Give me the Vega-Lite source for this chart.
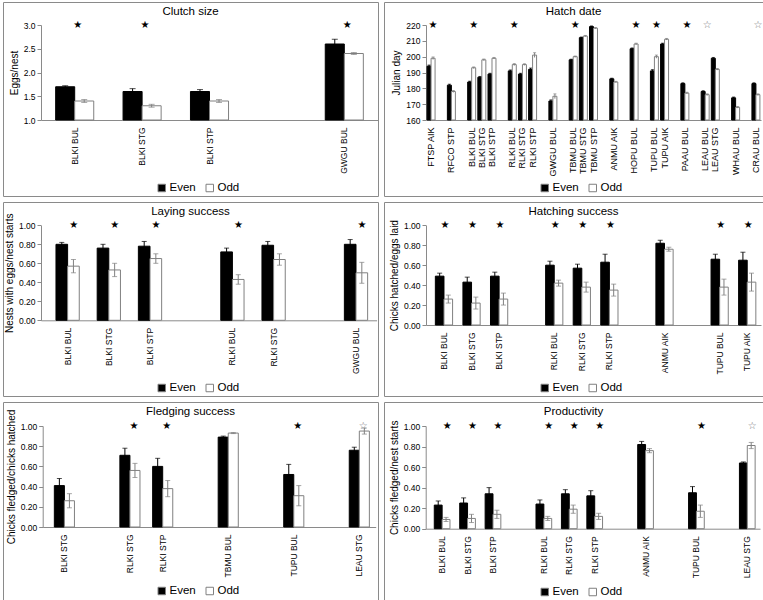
{
"$schema":"https://vega.github.io/schema/vega-lite/v6.json",
"padding":{"left":2,"top":1,"right":0,"bottom":0},
"columns":2,
"spacing":6,
"align":"each",
"bounds":"flush",
"resolve":{"scale":{"fill":"independent","xOffset":"independent","x":"independent","y":"independent"},"legend":{"fill":"independent"},"axis":{"x":"independent","y":"independent"}},
"config":{
 "font":"Liberation Sans",
 "view":{"stroke":"#8a8a8a","strokeWidth":1},
 "axis":{"grid":false,"domainColor":"#8a8a8a","tickColor":"#8a8a8a","labelColor":"#000000","titleColor":"#000000","labelFontSize":8.5,"titleFontSize":10,"titleFontWeight":"normal","labelFont":"Liberation Sans","titleFont":"Liberation Sans"},
 "axisX":{"tickSize":0,"labelAngle":-90,"labelPadding":7},
 "axisY":{"tickSize":4,"labelPadding":2,"titlePadding":4},
 "title":{"fontSize":11.5,"fontWeight":"normal","offset":-15,"frame":"group","color":"#000000","font":"Liberation Sans"},
 "legend":{"symbolType":"square","symbolSize":56,"labelFontSize":11.5,"labelOffset":2,"columnPadding":8,"symbolStrokeColor":"#808080","symbolStrokeWidth":1,"padding":0,"labelColor":"#000000"}
},
"datasets":{
 "clutch":[
  {"cat":"BLKI BUL","yr":"Even","v":1.7,"lo":1.68,"hi":1.72},{"cat":"BLKI BUL","yr":"Odd","v":1.4,"lo":1.37,"hi":1.43},
  {"cat":"BLKI STG","yr":"Even","v":1.6,"lo":1.54,"hi":1.66},{"cat":"BLKI STG","yr":"Odd","v":1.3,"lo":1.27,"hi":1.33},
  {"cat":"BLKI STP","yr":"Even","v":1.6,"lo":1.56,"hi":1.64},{"cat":"BLKI STP","yr":"Odd","v":1.4,"lo":1.37,"hi":1.43},
  {"cat":"GWGU BUL","yr":"Even","v":2.6,"lo":2.5,"hi":2.7},{"cat":"GWGU BUL","yr":"Odd","v":2.4,"lo":2.38,"hi":2.42}
 ],
 "clutchStars":[{"cat":"BLKI BUL","s":"★"},{"cat":"BLKI STG","s":"★"},{"cat":"GWGU BUL","s":"★"}],
 "hatch":[
  {"cat":"FTSP AIK","yr":"Even","v":194,"lo":193.3,"hi":194.7},{"cat":"FTSP AIK","yr":"Odd","v":199,"lo":198.2,"hi":199.8},
  {"cat":"RFCO STP","yr":"Even","v":182,"lo":181.4,"hi":182.6},{"cat":"RFCO STP","yr":"Odd","v":178,"lo":177.4,"hi":178.6},
  {"cat":"BLKI BUL","yr":"Even","v":184,"lo":183.5,"hi":184.5},{"cat":"BLKI BUL","yr":"Odd","v":193,"lo":192.5,"hi":193.5},
  {"cat":"BLKI STG","yr":"Even","v":187,"lo":186.5,"hi":187.5},{"cat":"BLKI STG","yr":"Odd","v":198,"lo":197.5,"hi":198.5},
  {"cat":"BLKI STP","yr":"Even","v":189,"lo":188.5,"hi":189.5},{"cat":"BLKI STP","yr":"Odd","v":199,"lo":198.5,"hi":199.5},
  {"cat":"RLKI BUL","yr":"Even","v":191,"lo":190.4,"hi":191.6},{"cat":"RLKI BUL","yr":"Odd","v":195,"lo":194.4,"hi":195.6},
  {"cat":"RLKI STG","yr":"Even","v":189,"lo":188.5,"hi":189.5},{"cat":"RLKI STG","yr":"Odd","v":195,"lo":194.5,"hi":195.5},
  {"cat":"RLKI STP","yr":"Even","v":192,"lo":191.2,"hi":192.8},{"cat":"RLKI STP","yr":"Odd","v":201,"lo":199.5,"hi":202.5},
  {"cat":"GWGU BUL","yr":"Even","v":172,"lo":171.3,"hi":172.7},{"cat":"GWGU BUL","yr":"Odd","v":175,"lo":173.5,"hi":176.5},
  {"cat":"TBMU BUL","yr":"Even","v":198,"lo":197.6,"hi":198.4},{"cat":"TBMU BUL","yr":"Odd","v":200,"lo":199.6,"hi":200.4},
  {"cat":"TBMU STG","yr":"Even","v":212,"lo":211.6,"hi":212.4},{"cat":"TBMU STG","yr":"Odd","v":213,"lo":212.6,"hi":213.4},
  {"cat":"TBMU STP","yr":"Even","v":219,"lo":218.6,"hi":219.4},{"cat":"TBMU STP","yr":"Odd","v":218,"lo":217.6,"hi":218.4},
  {"cat":"ANMU AIK","yr":"Even","v":186,"lo":185.6,"hi":186.4},{"cat":"ANMU AIK","yr":"Odd","v":184,"lo":183.6,"hi":184.4},
  {"cat":"HOPU BUL","yr":"Even","v":205,"lo":204.5,"hi":205.5},{"cat":"HOPU BUL","yr":"Odd","v":208,"lo":207.5,"hi":208.5},
  {"cat":"TUPU BUL","yr":"Even","v":191,"lo":190.2,"hi":191.8},{"cat":"TUPU BUL","yr":"Odd","v":200,"lo":199,"hi":201},
  {"cat":"TUPU AIK","yr":"Even","v":208,"lo":207.5,"hi":208.5},{"cat":"TUPU AIK","yr":"Odd","v":211,"lo":210.5,"hi":211.5},
  {"cat":"PAAU BUL","yr":"Even","v":183,"lo":182.5,"hi":183.5},{"cat":"PAAU BUL","yr":"Odd","v":177,"lo":176.5,"hi":177.5},
  {"cat":"LEAU BUL","yr":"Even","v":178,"lo":177.5,"hi":178.5},{"cat":"LEAU BUL","yr":"Odd","v":176,"lo":175.5,"hi":176.5},
  {"cat":"LEAU STG","yr":"Even","v":199,"lo":198.5,"hi":199.5},{"cat":"LEAU STG","yr":"Odd","v":192,"lo":191.5,"hi":192.5},
  {"cat":"WHAU BUL","yr":"Even","v":174,"lo":173.5,"hi":174.5},{"cat":"WHAU BUL","yr":"Odd","v":168,"lo":167.5,"hi":168.5},
  {"cat":"CRAU BUL","yr":"Even","v":183,"lo":182.5,"hi":183.5},{"cat":"CRAU BUL","yr":"Odd","v":176,"lo":175.5,"hi":176.5}
 ],
 "hatchStars":[{"cat":"FTSP AIK","s":"★"},{"cat":"BLKI BUL","s":"★"},{"cat":"RLKI BUL","s":"★"},{"cat":"TBMU BUL","s":"★"},{"cat":"HOPU BUL","s":"★"},{"cat":"TUPU BUL","s":"★"},{"cat":"PAAU BUL","s":"★"},{"cat":"LEAU BUL","s":"☆"},{"cat":"CRAU BUL","s":"☆"}],
 "laying":[
  {"cat":"BLKI BUL","yr":"Even","v":0.80,"lo":0.78,"hi":0.82},{"cat":"BLKI BUL","yr":"Odd","v":0.57,"lo":0.50,"hi":0.64},
  {"cat":"BLKI STG","yr":"Even","v":0.76,"lo":0.72,"hi":0.80},{"cat":"BLKI STG","yr":"Odd","v":0.53,"lo":0.46,"hi":0.60},
  {"cat":"BLKI STP","yr":"Even","v":0.78,"lo":0.73,"hi":0.83},{"cat":"BLKI STP","yr":"Odd","v":0.65,"lo":0.60,"hi":0.70},
  {"cat":"RLKI BUL","yr":"Even","v":0.72,"lo":0.68,"hi":0.76},{"cat":"RLKI BUL","yr":"Odd","v":0.43,"lo":0.38,"hi":0.48},
  {"cat":"RLKI STG","yr":"Even","v":0.79,"lo":0.75,"hi":0.83},{"cat":"RLKI STG","yr":"Odd","v":0.64,"lo":0.58,"hi":0.70},
  {"cat":"GWGU BUL","yr":"Even","v":0.80,"lo":0.75,"hi":0.85},{"cat":"GWGU BUL","yr":"Odd","v":0.50,"lo":0.39,"hi":0.61}
 ],
 "layingStars":[{"cat":"BLKI BUL","s":"★"},{"cat":"BLKI STG","s":"★"},{"cat":"BLKI STP","s":"★"},{"cat":"RLKI BUL","s":"★"},{"cat":"GWGU BUL","s":"★"}],
 "hatching":[
  {"cat":"BLKI BUL","yr":"Even","v":0.49,"lo":0.46,"hi":0.52},{"cat":"BLKI BUL","yr":"Odd","v":0.26,"lo":0.22,"hi":0.30},
  {"cat":"BLKI STG","yr":"Even","v":0.43,"lo":0.38,"hi":0.48},{"cat":"BLKI STG","yr":"Odd","v":0.22,"lo":0.16,"hi":0.28},
  {"cat":"BLKI STP","yr":"Even","v":0.49,"lo":0.45,"hi":0.53},{"cat":"BLKI STP","yr":"Odd","v":0.26,"lo":0.20,"hi":0.32},
  {"cat":"RLKI BUL","yr":"Even","v":0.60,"lo":0.56,"hi":0.64},{"cat":"RLKI BUL","yr":"Odd","v":0.42,"lo":0.39,"hi":0.45},
  {"cat":"RLKI STG","yr":"Even","v":0.57,"lo":0.53,"hi":0.61},{"cat":"RLKI STG","yr":"Odd","v":0.38,"lo":0.33,"hi":0.43},
  {"cat":"RLKI STP","yr":"Even","v":0.63,"lo":0.55,"hi":0.71},{"cat":"RLKI STP","yr":"Odd","v":0.35,"lo":0.29,"hi":0.41},
  {"cat":"ANMU AIK","yr":"Even","v":0.82,"lo":0.79,"hi":0.85},{"cat":"ANMU AIK","yr":"Odd","v":0.76,"lo":0.74,"hi":0.78},
  {"cat":"TUPU BUL","yr":"Even","v":0.66,"lo":0.61,"hi":0.71},{"cat":"TUPU BUL","yr":"Odd","v":0.38,"lo":0.30,"hi":0.46},
  {"cat":"TUPU AIK","yr":"Even","v":0.65,"lo":0.57,"hi":0.73},{"cat":"TUPU AIK","yr":"Odd","v":0.43,"lo":0.34,"hi":0.52}
 ],
 "hatchingStars":[{"cat":"BLKI BUL","s":"★"},{"cat":"BLKI STG","s":"★"},{"cat":"BLKI STP","s":"★"},{"cat":"RLKI BUL","s":"★"},{"cat":"RLKI STG","s":"★"},{"cat":"RLKI STP","s":"★"},{"cat":"TUPU BUL","s":"★"},{"cat":"TUPU AIK","s":"★"}],
 "fledging":[
  {"cat":"BLKI STG","yr":"Even","v":0.41,"lo":0.34,"hi":0.48},{"cat":"BLKI STG","yr":"Odd","v":0.26,"lo":0.19,"hi":0.33},
  {"cat":"RLKI STG","yr":"Even","v":0.71,"lo":0.64,"hi":0.78},{"cat":"RLKI STG","yr":"Odd","v":0.56,"lo":0.49,"hi":0.63},
  {"cat":"RLKI STP","yr":"Even","v":0.60,"lo":0.52,"hi":0.68},{"cat":"RLKI STP","yr":"Odd","v":0.38,"lo":0.30,"hi":0.46},
  {"cat":"TBMU BUL","yr":"Even","v":0.89,"lo":0.88,"hi":0.90},{"cat":"TBMU BUL","yr":"Odd","v":0.93,"lo":0.925,"hi":0.935},
  {"cat":"TUPU BUL","yr":"Even","v":0.52,"lo":0.42,"hi":0.62},{"cat":"TUPU BUL","yr":"Odd","v":0.31,"lo":0.21,"hi":0.41},
  {"cat":"LEAU STG","yr":"Even","v":0.76,"lo":0.73,"hi":0.79},{"cat":"LEAU STG","yr":"Odd","v":0.95,"lo":0.92,"hi":0.98}
 ],
 "fledgingStars":[{"cat":"RLKI STG","s":"★"},{"cat":"RLKI STP","s":"★"},{"cat":"TUPU BUL","s":"★"},{"cat":"LEAU STG","s":"☆"}],
 "prod":[
  {"cat":"BLKI BUL","yr":"Even","v":0.23,"lo":0.19,"hi":0.27},{"cat":"BLKI BUL","yr":"Odd","v":0.09,"lo":0.07,"hi":0.11},
  {"cat":"BLKI STG","yr":"Even","v":0.25,"lo":0.20,"hi":0.30},{"cat":"BLKI STG","yr":"Odd","v":0.10,"lo":0.06,"hi":0.14},
  {"cat":"BLKI STP","yr":"Even","v":0.34,"lo":0.28,"hi":0.40},{"cat":"BLKI STP","yr":"Odd","v":0.14,"lo":0.10,"hi":0.18},
  {"cat":"RLKI BUL","yr":"Even","v":0.24,"lo":0.20,"hi":0.28},{"cat":"RLKI BUL","yr":"Odd","v":0.10,"lo":0.08,"hi":0.12},
  {"cat":"RLKI STG","yr":"Even","v":0.34,"lo":0.30,"hi":0.38},{"cat":"RLKI STG","yr":"Odd","v":0.19,"lo":0.15,"hi":0.23},
  {"cat":"RLKI STP","yr":"Even","v":0.32,"lo":0.27,"hi":0.37},{"cat":"RLKI STP","yr":"Odd","v":0.12,"lo":0.09,"hi":0.15},
  {"cat":"ANMU AIK","yr":"Even","v":0.82,"lo":0.79,"hi":0.85},{"cat":"ANMU AIK","yr":"Odd","v":0.76,"lo":0.74,"hi":0.78},
  {"cat":"TUPU BUL","yr":"Even","v":0.35,"lo":0.29,"hi":0.41},{"cat":"TUPU BUL","yr":"Odd","v":0.17,"lo":0.11,"hi":0.23},
  {"cat":"LEAU STG","yr":"Even","v":0.64,"lo":0.63,"hi":0.65},{"cat":"LEAU STG","yr":"Odd","v":0.81,"lo":0.78,"hi":0.84}
 ],
 "prodStars":[{"cat":"BLKI BUL","s":"★"},{"cat":"BLKI STG","s":"★"},{"cat":"BLKI STP","s":"★"},{"cat":"RLKI BUL","s":"★"},{"cat":"RLKI STG","s":"★"},{"cat":"RLKI STP","s":"★"},{"cat":"TUPU BUL","s":"★"},{"cat":"LEAU STG","s":"☆"}]
},
"concat":[
  {"width":375,"height":194,"title":"Clutch size","data":{"name":"clutch"},
   "encoding":{"x":{"field":"cat","type":"nominal","title":null,"scale":{"domain":["BLKI BUL","BLKI STG","BLKI STP","_1","GWGU BUL"],"range":[38,375],"paddingInner":0,"paddingOuter":0},"axis":{"offset":-76,"labelExpr":"substring(datum.value,0,1)=='_' ? '' : datum.value"}}},
   "layer":[
    {"mark":{"type":"bar","strokeWidth":1},"encoding":{
      "xOffset":{"field":"yr","type":"nominal","scale":{"domain":["Even","Odd"],"paddingInner":0,"paddingOuter":0.77}},
      "y":{"field":"v","type":"quantitative","title":"Eggs/nest","scale":{"domain":[1,3],"range":[118,23],"zero":false,"nice":false},"axis":{"offset":-38,"values":[1,1.5,2,2.5,3],"format":".1f"}},
      "y2":{"datum":1},
      "fill":{"field":"yr","type":"nominal","scale":{"domain":["Even","Odd"],"range":["#000000","#ffffff"]},"legend":{"title":null,"orient":"none","legendX":153,"legendY":180,"direction":"horizontal"}},
      "stroke":{"condition":{"test":"datum.yr=='Odd'","value":"#808080"},"value":"#000000"}}},
    {"mark":{"type":"rule","strokeWidth":1},"encoding":{
      "xOffset":{"field":"yr","type":"nominal","scale":{"domain":["Even","Odd"],"paddingInner":0,"paddingOuter":0.77}},
      "y":{"field":"lo","type":"quantitative","title":"Eggs/nest","scale":{"domain":[1,3],"range":[118,23],"zero":false,"nice":false},"axis":{"offset":-38,"values":[1,1.5,2,2.5,3],"format":".1f"}},
      "y2":{"field":"hi"},
      "stroke":{"condition":{"test":"datum.yr=='Odd'","value":"#808080"},"value":"#000000"}}},
    {"mark":{"type":"tick","thickness":1,"size":6},"encoding":{
      "xOffset":{"field":"yr","type":"nominal","scale":{"domain":["Even","Odd"],"paddingInner":0,"paddingOuter":0.77}},
      "y":{"field":"hi","type":"quantitative","title":"Eggs/nest","scale":{"domain":[1,3],"range":[118,23],"zero":false,"nice":false},"axis":{"offset":-38,"values":[1,1.5,2,2.5,3],"format":".1f"}},
      "color":{"condition":{"test":"datum.yr=='Odd'","value":"#808080"},"value":"#000000"}}},
    {"mark":{"type":"tick","thickness":1,"size":6},"encoding":{
      "xOffset":{"field":"yr","type":"nominal","scale":{"domain":["Even","Odd"],"paddingInner":0,"paddingOuter":0.77}},
      "y":{"field":"lo","type":"quantitative","title":"Eggs/nest","scale":{"domain":[1,3],"range":[118,23],"zero":false,"nice":false},"axis":{"offset":-38,"values":[1,1.5,2,2.5,3],"format":".1f"}},
      "color":{"condition":{"test":"datum.yr=='Odd'","value":"#808080"},"value":"#000000"}}},
    {"data":{"name":"clutchStars"},"mark":{"type":"text","font":"DejaVu Sans","fontSize":10,"dx":3,"baseline":"middle"},"encoding":{
      "y":{"datum":3,"type":"quantitative","title":"Eggs/nest","scale":{"domain":[1,3],"range":[118,23],"zero":false,"nice":false},"axis":{"offset":-38,"values":[1,1.5,2,2.5,3],"format":".1f"}},
      "text":{"field":"s"},
      "color":{"condition":{"test":"datum.s=='☆'","value":"#777777"},"value":"#000000"}}}
   ]},
  {"width":379,"height":194,"title":"Hatch date","data":{"name":"hatch"},
   "encoding":{"x":{"field":"cat","type":"nominal","title":null,"scale":{"domain":["FTSP AIK","_1","RFCO STP","_2","BLKI BUL","BLKI STG","BLKI STP","_3","RLKI BUL","RLKI STG","RLKI STP","_4","GWGU BUL","_5","TBMU BUL","TBMU STG","TBMU STP","_6","ANMU AIK","_7","HOPU BUL","_8","TUPU BUL","TUPU AIK","_9","PAAU BUL","_10","LEAU BUL","LEAU STG","_11","WHAU BUL","_12","CRAU BUL"],"range":[42,377],"paddingInner":0,"paddingOuter":0},"axis":{"offset":-76,"labelFontSize":9,"labelExpr":"substring(datum.value,0,1)=='_' ? '' : datum.value"}}},
   "layer":[
    {"mark":{"type":"bar","strokeWidth":1},"encoding":{
      "xOffset":{"field":"yr","type":"nominal","scale":{"domain":["Even","Odd"],"paddingInner":0,"paddingOuter":0.27}},
      "y":{"field":"v","type":"quantitative","title":"Julian day","scale":{"domain":[160,220],"range":[118,23],"zero":false,"nice":false},"axis":{"offset":-42,"values":[160,170,180,190,200,210,220],"format":"d"}},
      "y2":{"datum":160},
      "fill":{"field":"yr","type":"nominal","scale":{"domain":["Even","Odd"],"range":["#000000","#ffffff"]},"legend":{"title":null,"orient":"none","legendX":155,"legendY":180,"direction":"horizontal"}},
      "stroke":{"condition":{"test":"datum.yr=='Odd'","value":"#808080"},"value":"#000000"}}},
    {"mark":{"type":"rule","strokeWidth":1},"encoding":{
      "xOffset":{"field":"yr","type":"nominal","scale":{"domain":["Even","Odd"],"paddingInner":0,"paddingOuter":0.27}},
      "y":{"field":"lo","type":"quantitative","title":"Julian day","scale":{"domain":[160,220],"range":[118,23],"zero":false,"nice":false},"axis":{"offset":-42,"values":[160,170,180,190,200,210,220],"format":"d"}},
      "y2":{"field":"hi"},
      "stroke":{"condition":{"test":"datum.yr=='Odd'","value":"#808080"},"value":"#000000"}}},
    {"mark":{"type":"tick","thickness":1,"size":3},"encoding":{
      "xOffset":{"field":"yr","type":"nominal","scale":{"domain":["Even","Odd"],"paddingInner":0,"paddingOuter":0.27}},
      "y":{"field":"hi","type":"quantitative","title":"Julian day","scale":{"domain":[160,220],"range":[118,23],"zero":false,"nice":false},"axis":{"offset":-42,"values":[160,170,180,190,200,210,220],"format":"d"}},
      "color":{"condition":{"test":"datum.yr=='Odd'","value":"#808080"},"value":"#000000"}}},
    {"data":{"name":"hatchStars"},"mark":{"type":"text","font":"DejaVu Sans","fontSize":10,"dx":2,"baseline":"middle"},"encoding":{
      "y":{"datum":220,"type":"quantitative","title":"Julian day","scale":{"domain":[160,220],"range":[118,23],"zero":false,"nice":false},"axis":{"offset":-42,"values":[160,170,180,190,200,210,220],"format":"d"}},
      "text":{"field":"s"},
      "color":{"condition":{"test":"datum.s=='☆'","value":"#777777"},"value":"#000000"}}}
   ]},
  {"width":375,"height":194,"title":"Laying success","data":{"name":"laying"},
   "encoding":{"x":{"field":"cat","type":"nominal","title":null,"scale":{"domain":["BLKI BUL","BLKI STG","BLKI STP","_1","RLKI BUL","RLKI STG","_2","GWGU BUL"],"range":[38,373.6],"paddingInner":0,"paddingOuter":0.073,"align":1},"axis":{"offset":-75.7,"labelExpr":"substring(datum.value,0,1)=='_' ? '' : datum.value"}}},
   "layer":[
    {"mark":{"type":"bar","strokeWidth":1},"encoding":{
      "xOffset":{"field":"yr","type":"nominal","scale":{"domain":["Even","Odd"],"paddingInner":0,"paddingOuter":0.77}},
      "y":{"field":"v","type":"quantitative","title":"Nests with eggs/nest starts","scale":{"domain":[0,1],"range":[118.3,23.3],"nice":false},"axis":{"offset":-38,"values":[0,0.2,0.4,0.6,0.8,1],"format":".2f"}},
      "y2":{"datum":0},
      "fill":{"field":"yr","type":"nominal","scale":{"domain":["Even","Odd"],"range":["#000000","#ffffff"]},"legend":{"title":null,"orient":"none","legendX":153,"legendY":180,"direction":"horizontal"}},
      "stroke":{"condition":{"test":"datum.yr=='Odd'","value":"#808080"},"value":"#000000"}}},
    {"mark":{"type":"rule","strokeWidth":1},"encoding":{
      "xOffset":{"field":"yr","type":"nominal","scale":{"domain":["Even","Odd"],"paddingInner":0,"paddingOuter":0.77}},
      "y":{"field":"lo","type":"quantitative","title":"Nests with eggs/nest starts","scale":{"domain":[0,1],"range":[118.3,23.3],"nice":false},"axis":{"offset":-38,"values":[0,0.2,0.4,0.6,0.8,1],"format":".2f"}},
      "y2":{"field":"hi"},
      "stroke":{"condition":{"test":"datum.yr=='Odd'","value":"#808080"},"value":"#000000"}}},
    {"mark":{"type":"tick","thickness":1,"size":5},"encoding":{
      "xOffset":{"field":"yr","type":"nominal","scale":{"domain":["Even","Odd"],"paddingInner":0,"paddingOuter":0.77}},
      "y":{"field":"hi","type":"quantitative","title":"Nests with eggs/nest starts","scale":{"domain":[0,1],"range":[118.3,23.3],"nice":false},"axis":{"offset":-38,"values":[0,0.2,0.4,0.6,0.8,1],"format":".2f"}},
      "color":{"condition":{"test":"datum.yr=='Odd'","value":"#808080"},"value":"#000000"}}},
    {"mark":{"type":"tick","thickness":1,"size":5},"encoding":{
      "xOffset":{"field":"yr","type":"nominal","scale":{"domain":["Even","Odd"],"paddingInner":0,"paddingOuter":0.77}},
      "y":{"field":"lo","type":"quantitative","title":"Nests with eggs/nest starts","scale":{"domain":[0,1],"range":[118.3,23.3],"nice":false},"axis":{"offset":-38,"values":[0,0.2,0.4,0.6,0.8,1],"format":".2f"}},
      "color":{"condition":{"test":"datum.yr=='Odd'","value":"#808080"},"value":"#000000"}}},
    {"data":{"name":"layingStars"},"mark":{"type":"text","font":"DejaVu Sans","fontSize":10,"dx":6,"baseline":"middle"},"encoding":{
      "y":{"datum":1,"type":"quantitative","title":"Nests with eggs/nest starts","scale":{"domain":[0,1],"range":[118.3,23.3],"nice":false},"axis":{"offset":-38,"values":[0,0.2,0.4,0.6,0.8,1],"format":".2f"}},
      "text":{"field":"s"},
      "color":{"condition":{"test":"datum.s=='☆'","value":"#777777"},"value":"#000000"}}}
   ]},
  {"width":379,"height":194,"title":"Hatching success","data":{"name":"hatching"},
   "encoding":{"x":{"field":"cat","type":"nominal","title":null,"scale":{"domain":["BLKI BUL","BLKI STG","BLKI STP","_1","RLKI BUL","RLKI STG","RLKI STP","_2","ANMU AIK","_3","TUPU BUL","TUPU AIK"],"range":[42,377],"paddingInner":0,"paddingOuter":0.076,"align":1},"axis":{"offset":-71,"labelExpr":"substring(datum.value,0,1)=='_' ? '' : datum.value"}}},
   "layer":[
    {"mark":{"type":"bar","strokeWidth":1},"encoding":{
      "xOffset":{"field":"yr","type":"nominal","scale":{"domain":["Even","Odd"],"paddingInner":0,"paddingOuter":0.6}},
      "y":{"field":"v","type":"quantitative","title":"Chicks hatched/eggs laid","scale":{"domain":[0,1],"range":[123,23.3],"nice":false},"axis":{"offset":-42,"values":[0,0.2,0.4,0.6,0.8,1],"format":".2f"}},
      "y2":{"datum":0},
      "fill":{"field":"yr","type":"nominal","scale":{"domain":["Even","Odd"],"range":["#000000","#ffffff"]},"legend":{"title":null,"orient":"none","legendX":155,"legendY":180,"direction":"horizontal"}},
      "stroke":{"condition":{"test":"datum.yr=='Odd'","value":"#808080"},"value":"#000000"}}},
    {"mark":{"type":"rule","strokeWidth":1},"encoding":{
      "xOffset":{"field":"yr","type":"nominal","scale":{"domain":["Even","Odd"],"paddingInner":0,"paddingOuter":0.6}},
      "y":{"field":"lo","type":"quantitative","title":"Chicks hatched/eggs laid","scale":{"domain":[0,1],"range":[123,23.3],"nice":false},"axis":{"offset":-42,"values":[0,0.2,0.4,0.6,0.8,1],"format":".2f"}},
      "y2":{"field":"hi"},
      "stroke":{"condition":{"test":"datum.yr=='Odd'","value":"#808080"},"value":"#000000"}}},
    {"mark":{"type":"tick","thickness":1,"size":5},"encoding":{
      "xOffset":{"field":"yr","type":"nominal","scale":{"domain":["Even","Odd"],"paddingInner":0,"paddingOuter":0.6}},
      "y":{"field":"hi","type":"quantitative","title":"Chicks hatched/eggs laid","scale":{"domain":[0,1],"range":[123,23.3],"nice":false},"axis":{"offset":-42,"values":[0,0.2,0.4,0.6,0.8,1],"format":".2f"}},
      "color":{"condition":{"test":"datum.yr=='Odd'","value":"#808080"},"value":"#000000"}}},
    {"mark":{"type":"tick","thickness":1,"size":5},"encoding":{
      "xOffset":{"field":"yr","type":"nominal","scale":{"domain":["Even","Odd"],"paddingInner":0,"paddingOuter":0.6}},
      "y":{"field":"lo","type":"quantitative","title":"Chicks hatched/eggs laid","scale":{"domain":[0,1],"range":[123,23.3],"nice":false},"axis":{"offset":-42,"values":[0,0.2,0.4,0.6,0.8,1],"format":".2f"}},
      "color":{"condition":{"test":"datum.yr=='Odd'","value":"#808080"},"value":"#000000"}}},
    {"data":{"name":"hatchingStars"},"mark":{"type":"text","font":"DejaVu Sans","fontSize":10,"dx":1,"baseline":"middle"},"encoding":{
      "y":{"datum":1,"type":"quantitative","title":"Chicks hatched/eggs laid","scale":{"domain":[0,1],"range":[123,23.3],"nice":false},"axis":{"offset":-42,"values":[0,0.2,0.4,0.6,0.8,1],"format":".2f"}},
      "text":{"field":"s"},
      "color":{"condition":{"test":"datum.s=='☆'","value":"#777777"},"value":"#000000"}}}
   ]},
  {"width":375,"height":198,"title":"Fledging success","data":{"name":"fledging"},
   "encoding":{"x":{"field":"cat","type":"nominal","title":null,"scale":{"domain":["BLKI STG","_1","RLKI STG","RLKI STP","_2","TBMU BUL","_3","TUPU BUL","_4","LEAU STG"],"range":[39.7,372.7],"paddingInner":0,"paddingOuter":0.081,"align":1},"axis":{"offset":-73,"labelExpr":"substring(datum.value,0,1)=='_' ? '' : datum.value"}}},
   "layer":[
    {"mark":{"type":"bar","strokeWidth":1},"encoding":{
      "xOffset":{"field":"yr","type":"nominal","scale":{"domain":["Even","Odd"],"paddingInner":0,"paddingOuter":0.63}},
      "y":{"field":"v","type":"quantitative","title":"Chicks fledged/chicks hatched","scale":{"domain":[0,1],"range":[125,24],"nice":false},"axis":{"offset":-39.7,"values":[0,0.2,0.4,0.6,0.8,1],"format":".2f"}},
      "y2":{"datum":0},
      "fill":{"field":"yr","type":"nominal","scale":{"domain":["Even","Odd"],"range":["#000000","#ffffff"]},"legend":{"title":null,"orient":"none","legendX":153,"legendY":183,"direction":"horizontal"}},
      "stroke":{"condition":{"test":"datum.yr=='Odd'","value":"#808080"},"value":"#000000"}}},
    {"mark":{"type":"rule","strokeWidth":1},"encoding":{
      "xOffset":{"field":"yr","type":"nominal","scale":{"domain":["Even","Odd"],"paddingInner":0,"paddingOuter":0.63}},
      "y":{"field":"lo","type":"quantitative","title":"Chicks fledged/chicks hatched","scale":{"domain":[0,1],"range":[125,24],"nice":false},"axis":{"offset":-39.7,"values":[0,0.2,0.4,0.6,0.8,1],"format":".2f"}},
      "y2":{"field":"hi"},
      "stroke":{"condition":{"test":"datum.yr=='Odd'","value":"#808080"},"value":"#000000"}}},
    {"mark":{"type":"tick","thickness":1,"size":5},"encoding":{
      "xOffset":{"field":"yr","type":"nominal","scale":{"domain":["Even","Odd"],"paddingInner":0,"paddingOuter":0.63}},
      "y":{"field":"hi","type":"quantitative","title":"Chicks fledged/chicks hatched","scale":{"domain":[0,1],"range":[125,24],"nice":false},"axis":{"offset":-39.7,"values":[0,0.2,0.4,0.6,0.8,1],"format":".2f"}},
      "color":{"condition":{"test":"datum.yr=='Odd'","value":"#808080"},"value":"#000000"}}},
    {"mark":{"type":"tick","thickness":1,"size":5},"encoding":{
      "xOffset":{"field":"yr","type":"nominal","scale":{"domain":["Even","Odd"],"paddingInner":0,"paddingOuter":0.63}},
      "y":{"field":"lo","type":"quantitative","title":"Chicks fledged/chicks hatched","scale":{"domain":[0,1],"range":[125,24],"nice":false},"axis":{"offset":-39.7,"values":[0,0.2,0.4,0.6,0.8,1],"format":".2f"}},
      "color":{"condition":{"test":"datum.yr=='Odd'","value":"#808080"},"value":"#000000"}}},
    {"data":{"name":"fledgingStars"},"mark":{"type":"text","font":"DejaVu Sans","fontSize":10,"dx":4,"baseline":"middle"},"encoding":{
      "y":{"datum":1,"type":"quantitative","title":"Chicks fledged/chicks hatched","scale":{"domain":[0,1],"range":[125,24],"nice":false},"axis":{"offset":-39.7,"values":[0,0.2,0.4,0.6,0.8,1],"format":".2f"}},
      "text":{"field":"s"},
      "color":{"condition":{"test":"datum.s=='☆'","value":"#777777"},"value":"#000000"}}}
   ]},
  {"width":379,"height":198,"title":"Productivity","data":{"name":"prod"},
   "encoding":{"x":{"field":"cat","type":"nominal","title":null,"scale":{"domain":["BLKI BUL","BLKI STG","BLKI STP","_1","RLKI BUL","RLKI STG","RLKI STP","_2","ANMU AIK","_3","TUPU BUL","_4","LEAU STG"],"range":[41.7,376],"paddingInner":0,"paddingOuter":0.073,"align":1},"axis":{"offset":-71.3,"labelExpr":"substring(datum.value,0,1)=='_' ? '' : datum.value"}}},
   "layer":[
    {"mark":{"type":"bar","strokeWidth":1},"encoding":{
      "xOffset":{"field":"yr","type":"nominal","scale":{"domain":["Even","Odd"],"paddingInner":0,"paddingOuter":0.62}},
      "y":{"field":"v","type":"quantitative","title":"Chicks fledged/nest starts","scale":{"domain":[0,1],"range":[126.7,24],"nice":false},"axis":{"offset":-41.7,"values":[0,0.2,0.4,0.6,0.8,1],"format":".2f"}},
      "y2":{"datum":0},
      "fill":{"field":"yr","type":"nominal","scale":{"domain":["Even","Odd"],"range":["#000000","#ffffff"]},"legend":{"title":null,"orient":"none","legendX":155,"legendY":184,"direction":"horizontal"}},
      "stroke":{"condition":{"test":"datum.yr=='Odd'","value":"#808080"},"value":"#000000"}}},
    {"mark":{"type":"rule","strokeWidth":1},"encoding":{
      "xOffset":{"field":"yr","type":"nominal","scale":{"domain":["Even","Odd"],"paddingInner":0,"paddingOuter":0.62}},
      "y":{"field":"lo","type":"quantitative","title":"Chicks fledged/nest starts","scale":{"domain":[0,1],"range":[126.7,24],"nice":false},"axis":{"offset":-41.7,"values":[0,0.2,0.4,0.6,0.8,1],"format":".2f"}},
      "y2":{"field":"hi"},
      "stroke":{"condition":{"test":"datum.yr=='Odd'","value":"#808080"},"value":"#000000"}}},
    {"mark":{"type":"tick","thickness":1,"size":5},"encoding":{
      "xOffset":{"field":"yr","type":"nominal","scale":{"domain":["Even","Odd"],"paddingInner":0,"paddingOuter":0.62}},
      "y":{"field":"hi","type":"quantitative","title":"Chicks fledged/nest starts","scale":{"domain":[0,1],"range":[126.7,24],"nice":false},"axis":{"offset":-41.7,"values":[0,0.2,0.4,0.6,0.8,1],"format":".2f"}},
      "color":{"condition":{"test":"datum.yr=='Odd'","value":"#808080"},"value":"#000000"}}},
    {"mark":{"type":"tick","thickness":1,"size":5},"encoding":{
      "xOffset":{"field":"yr","type":"nominal","scale":{"domain":["Even","Odd"],"paddingInner":0,"paddingOuter":0.62}},
      "y":{"field":"lo","type":"quantitative","title":"Chicks fledged/nest starts","scale":{"domain":[0,1],"range":[126.7,24],"nice":false},"axis":{"offset":-41.7,"values":[0,0.2,0.4,0.6,0.8,1],"format":".2f"}},
      "color":{"condition":{"test":"datum.yr=='Odd'","value":"#808080"},"value":"#000000"}}},
    {"data":{"name":"prodStars"},"mark":{"type":"text","font":"DejaVu Sans","fontSize":10,"dx":5,"baseline":"middle"},"encoding":{
      "y":{"datum":1,"type":"quantitative","title":"Chicks fledged/nest starts","scale":{"domain":[0,1],"range":[126.7,24],"nice":false},"axis":{"offset":-41.7,"values":[0,0.2,0.4,0.6,0.8,1],"format":".2f"}},
      "text":{"field":"s"},
      "color":{"condition":{"test":"datum.s=='☆'","value":"#777777"},"value":"#000000"}}}
   ]}
]
}
